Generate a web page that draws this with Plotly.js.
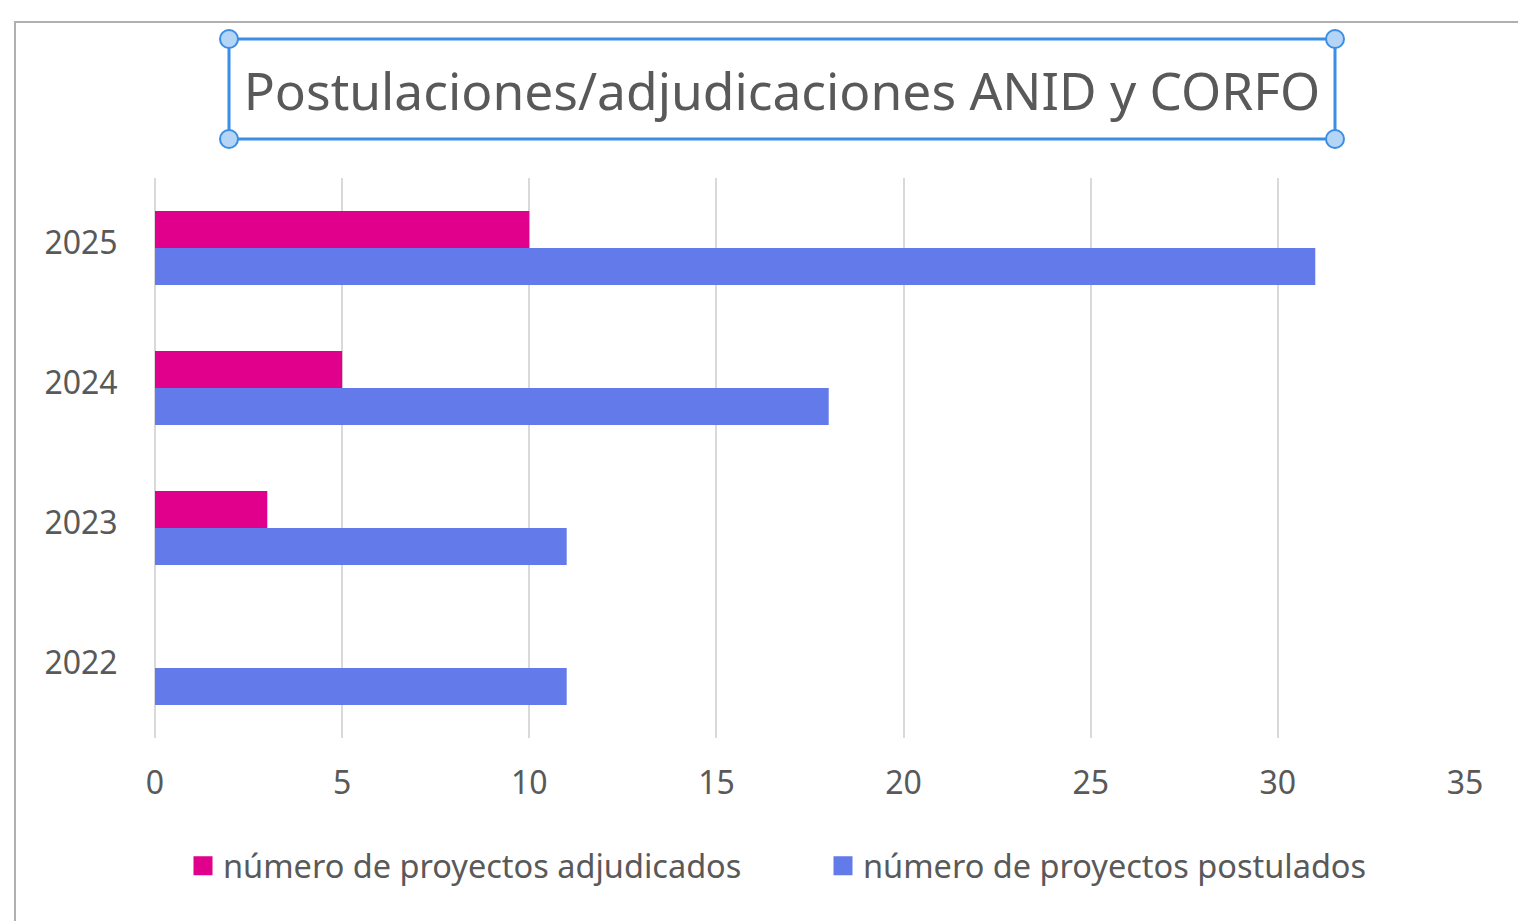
<!DOCTYPE html>
<html>
<head>
<meta charset="utf-8">
<script src="https://cdn.plot.ly/plotly-3.0.1.min.js"></script>
<style>html,body{margin:0;padding:0;background:#fff;}#chart{width:1518px;height:921px;}</style>
</head>
<body>
<div id="chart"></div>
<script>
const years = ["2022", "2023", "2024", "2025"];
const adjudicados = [0, 3, 5, 10];
const postulados = [11, 11, 18, 31];
const seriesNames = ["número de proyectos adjudicados", "número de proyectos postulados"];
const chartTitle = "Postulaciones/adjudicaciones ANID y CORFO";
const xTicks = [0, 5, 10, 15, 20, 25, 30, 35];

const W = 1518, H = 921;
const L = 155, R = 53, T = 178, B = 183;
const pw = W - L - R, ph = H - T - B;
const px = x => (x - L) / pw;
const py = y => (H - B - y) / ph;

const FONT = "Noto Sans, Open Sans, sans-serif";
const blue = "#637bea", magenta = "#e0008c";

const traces = [
  {type: "bar", orientation: "h", y: years, x: postulados, name: seriesNames[1],
   marker: {color: blue}, hoverinfo: "x+name", showlegend: false, legendgroup: "p"},
  {type: "bar", orientation: "h", y: years, x: adjudicados, name: seriesNames[0],
   marker: {color: magenta}, hoverinfo: "x+name", showlegend: false, legendgroup: "a"},
  // legend-only entries (larger square swatches)
  {type: "scatter", mode: "markers", x: [null], y: [null], name: seriesNames[0],
   marker: {symbol: "square", size: 16, color: magenta, line: {color: magenta, width: 3}},
   showlegend: true, legendgroup: "a", hoverinfo: "skip"},
  {type: "scatter", mode: "markers", x: [null], y: [null], name: seriesNames[1],
   marker: {symbol: "square", size: 16, color: blue, line: {color: blue, width: 3}},
   showlegend: true, legendgroup: "p", hoverinfo: "skip"}
];

const hx0 = px(229), hx1 = px(1335), hy0 = py(139), hy1 = py(39);
const rx = 9 / pw, ry = 9 / ph;
function handle(cx, cy) {
  return {type: "circle", xref: "paper", yref: "paper",
    x0: cx - rx, x1: cx + rx, y0: cy - ry, y1: cy + ry,
    fillcolor: "#b5d5f6", line: {color: "#3a8ee6", width: 2}, layer: "above"};
}

const layout = {
  width: W, height: H,
  margin: {l: L, r: R, t: T, b: B},
  paper_bgcolor: "#ffffff", plot_bgcolor: "#ffffff",
  showlegend: true,
  barmode: "group",
  bargap: 0.47, bargroupgap: 0,
  title: {text: chartTitle, font: {family: FONT, size: 51.5, color: "#595959"},
    xref: "paper", x: px(782), xanchor: "center",
    yref: "container", y: 1 - 92 / H, yanchor: "middle"},
  xaxis: {range: [0, 35], tickvals: xTicks, ticktext: xTicks.map(String),
    showgrid: true, gridcolor: "#d9d9d9", gridwidth: 2,
    zeroline: true, zerolinecolor: "#d9d9d9", zerolinewidth: 2,
    showline: false, ticks: "outside", ticklen: 17, tickcolor: "rgba(0,0,0,0)",
    tickfont: {family: FONT, size: 32, color: "#595959"}, fixedrange: true},
  yaxis: {type: "category", categoryorder: "array", categoryarray: years,
    showgrid: false, zeroline: false, showline: false,
    ticks: "outside", ticklen: 30, tickcolor: "rgba(0,0,0,0)",
    ticklabelshift: -5,
    tickfont: {family: FONT, size: 32, color: "#595959"}, fixedrange: true},
  legend: {orientation: "h", traceorder: "normal", entrywidth: 595, entrywidthmode: "pixels",
    xref: "container", x: 183 / W, xanchor: "left",
    yref: "container", y: 1 - 866 / H, yanchor: "middle",
    font: {family: FONT, size: 32.5, color: "#595959"}, itemclick: false},
  shapes: [
    {type: "rect", xref: "paper", yref: "paper", x0: px(15), x1: px(1530), y0: py(940), y1: py(22),
     line: {color: "#b0b0b0", width: 2}, fillcolor: "rgba(0,0,0,0)", layer: "below"},
    {type: "rect", xref: "paper", yref: "paper", x0: hx0, x1: hx1, y0: hy0, y1: hy1,
     line: {color: "#3a8ee6", width: 3}, fillcolor: "rgba(0,0,0,0)", layer: "above"},
    handle(hx0, hy0), handle(hx1, hy0), handle(hx0, hy1), handle(hx1, hy1)
  ]
};

Plotly.newPlot("chart", traces, layout, {displayModeBar: false});
</script>
</body>
</html>
